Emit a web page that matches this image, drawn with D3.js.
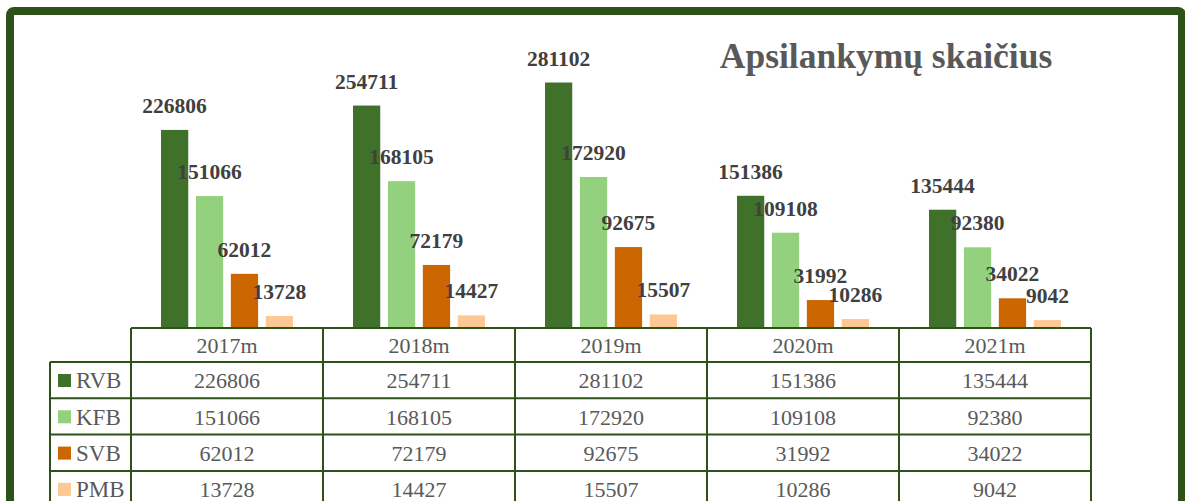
<!DOCTYPE html>
<html>
<head>
<meta charset="utf-8">
<script src="https://cdn.jsdelivr.net/npm/d3@7"></script>
<style>
  body { margin: 0; background: #fff; }
  svg { display: block; }
</style>
</head>
<body>
<div id="chart"></div>
<script>
const years = ["2017m", "2018m", "2019m", "2020m", "2021m"];
const seriesNames = ["RVB", "KFB", "SVB", "PMB"];
const rvb = [226806, 254711, 281102, 151386, 135444];
const kfb = [151066, 168105, 172920, 109108, 92380];
const svb = [62012, 72179, 92675, 31992, 34022];
const pmb = [13728, 14427, 15507, 10286, 9042];
const colors = ["#40712a", "#93d17f", "#cc6600", "#fec895"];
const title = "Apsilankymų skaičius";

const W = 1185, H = 501;
const values = [rvb, kfb, svb, pmb];
const serif = "'Liberation Serif', 'DejaVu Serif', serif";
const frameColor = "#2c521a";

const svg = d3.select("#chart").append("svg")
    .attr("width", W)
    .attr("height", H);

// frame
svg.append("rect")
    .attr("x", 10).attr("y", 11)
    .attr("width", 1172).attr("height", 540)
    .attr("rx", 4)
    .attr("fill", "#fff")
    .attr("stroke", frameColor)
    .attr("stroke-width", 8);

const x0 = d3.scaleBand()
    .domain(years)
    .range([131, 1091]);

const x1 = d3.scaleBand()
    .domain(seriesNames)
    .range([30, 162])
    .paddingInner(0.22);

const y = d3.scaleLinear()
    .domain([0, 300000])
    .range([328, 66]);

// title
svg.append("text")
    .attr("x", 886)
    .attr("y", 68)
    .attr("text-anchor", "middle")
    .attr("font-family", serif)
    .attr("font-weight", "bold")
    .attr("font-size", 35.5)
    .attr("fill", "#595959")
    .text(title);

// bars
const groups = svg.selectAll(".year")
    .data(years)
    .join("g")
    .classed("year", true)
    .attr("transform", d => `translate(${x0(d)},0)`);

groups.selectAll("rect")
    .data((d, i) => seriesNames.map((s, j) => ({ s, v: values[j][i], c: colors[j] })))
    .join("rect")
        .attr("x", d => x1(d.s))
        .attr("width", x1.bandwidth())
        .attr("y", d => y(d.v))
        .attr("height", d => y(0) - y(d.v))
        .attr("fill", d => d.c);

groups.selectAll("text")
    .data((d, i) => seriesNames.map((s, j) => ({ s, v: values[j][i] })))
    .join("text")
        .attr("x", d => x1(d.s) + x1.bandwidth() / 2)
        .attr("y", d => y(d.v) - 17)
        .attr("text-anchor", "middle")
        .attr("font-family", serif)
        .attr("font-weight", "bold")
        .attr("font-size", 21.5)
        .attr("fill", "#404040")
        .text(d => d.v);

// data table
const headerTop = 328, headerH = 34, rowH = 36.3;
const legendLeft = 50;
const rowTop = i => headerTop + headerH + i * rowH;
const table = svg.append("g")
    .attr("font-family", serif)
    .attr("font-size", 22)
    .attr("fill", "#595959");

table.selectAll(".head")
    .data(years)
    .join("text")
        .attr("x", d => x0(d) + x0.bandwidth() / 2)
        .attr("y", headerTop + headerH - 9)
        .attr("text-anchor", "middle")
        .text(d => d);

seriesNames.forEach((s, j) => {
    table.append("rect")
        .attr("x", 58)
        .attr("y", rowTop(j) + 12)
        .attr("width", 13)
        .attr("height", 13)
        .attr("fill", colors[j]);
    table.append("text")
        .attr("x", 76)
        .attr("y", rowTop(j) + rowH - 10)
        .attr("font-size", 23)
        .text(s);
    table.selectAll(".cell" + j)
        .data(values[j])
        .join("text")
            .attr("x", (d, i) => x0(years[i]) + x0.bandwidth() / 2)
            .attr("y", rowTop(j) + rowH - 10)
            .attr("text-anchor", "middle")
            .text(d => d);
});

// table grid lines
const grid = svg.append("g")
    .attr("stroke", frameColor)
    .attr("stroke-width", 2);

grid.append("line")
    .attr("x1", x0.range()[0]).attr("x2", x0.range()[1])
    .attr("y1", headerTop).attr("y2", headerTop);

d3.range(seriesNames.length + 1).forEach(i => {
    grid.append("line")
        .attr("x1", legendLeft).attr("x2", x0.range()[1])
        .attr("y1", rowTop(i)).attr("y2", rowTop(i));
});

grid.selectAll(".vline")
    .data(years.concat([null]))
    .join("line")
        .attr("x1", (d, i) => x0.range()[0] + i * x0.step())
        .attr("x2", (d, i) => x0.range()[0] + i * x0.step())
        .attr("y1", headerTop)
        .attr("y2", H + 10);

grid.append("line")
    .attr("x1", legendLeft).attr("x2", legendLeft)
    .attr("y1", rowTop(0)).attr("y2", H + 10);
</script>
</body>
</html>
